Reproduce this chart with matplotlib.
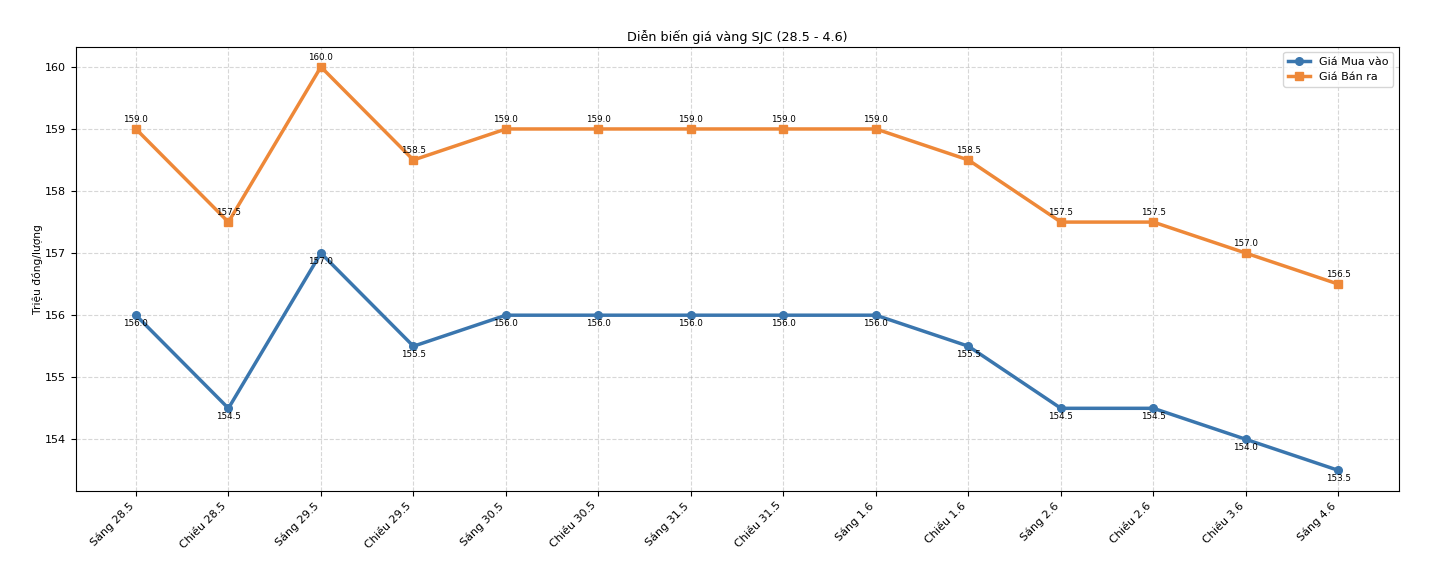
import matplotlib
matplotlib.use("Agg")
import matplotlib.pyplot as plt
import numpy as np

sessions = ["Sáng 28.5", "Chiều 28.5", "Sáng 29.5", "Chiều 29.5", "Sáng 30.5",
            "Chiều 30.5", "Sáng 31.5", "Chiều 31.5", "Sáng 1.6", "Chiều 1.6",
            "Sáng 2.6", "Chiều 2.6", "Chiều 3.6", "Sáng 4.6"]
buy_prices = [156.0, 154.5, 157.0, 155.5, 156.0, 156.0, 156.0, 156.0, 156.0,
              155.5, 154.5, 154.5, 154.0, 153.5]
sell_prices = [159.0, 157.5, 160.0, 158.5, 159.0, 159.0, 159.0, 159.0, 159.0,
               158.5, 157.5, 157.5, 157.0, 156.5]

fig, ax = plt.subplots(figsize=(14.3, 5.84), dpi=100)
x = np.arange(len(sessions))

ax.plot(x, buy_prices, marker="o", markersize=5.5, linewidth=2.5,
        color="#3a76ae", label="Giá Mua vào")
ax.plot(x, sell_prices, marker="s", markersize=5.5, linewidth=2.5,
        color="#ee8838", label="Giá Bán ra")

for xi, v in zip(x, buy_prices):
    ax.annotate(f"{v:.1f}", (xi, v), textcoords="offset points", xytext=(0, -8),
                ha="center", fontsize=6.3)
for xi, v in zip(x, sell_prices):
    ax.annotate(f"{v:.1f}", (xi, v), textcoords="offset points", xytext=(0, 5),
                ha="center", fontsize=6.3)

ax.set_title("Diễn biến giá vàng SJC (28.5 - 4.6)", fontsize=9.2, pad=4)
ax.set_ylabel("Triệu đồng/lượng", fontsize=7.7, labelpad=1.5)
ax.set_xticks(x)
ax.set_xticklabels(sessions, rotation=45, ha="right", fontsize=8)
ax.tick_params(axis="y", labelsize=8)
ax.grid(True, linestyle="--", alpha=0.5)
ax.legend(loc="upper right", fontsize=8)

fig.subplots_adjust(left=0.053, right=0.978, top=0.92, bottom=0.16)
fig.savefig("out.png", dpi=100)
